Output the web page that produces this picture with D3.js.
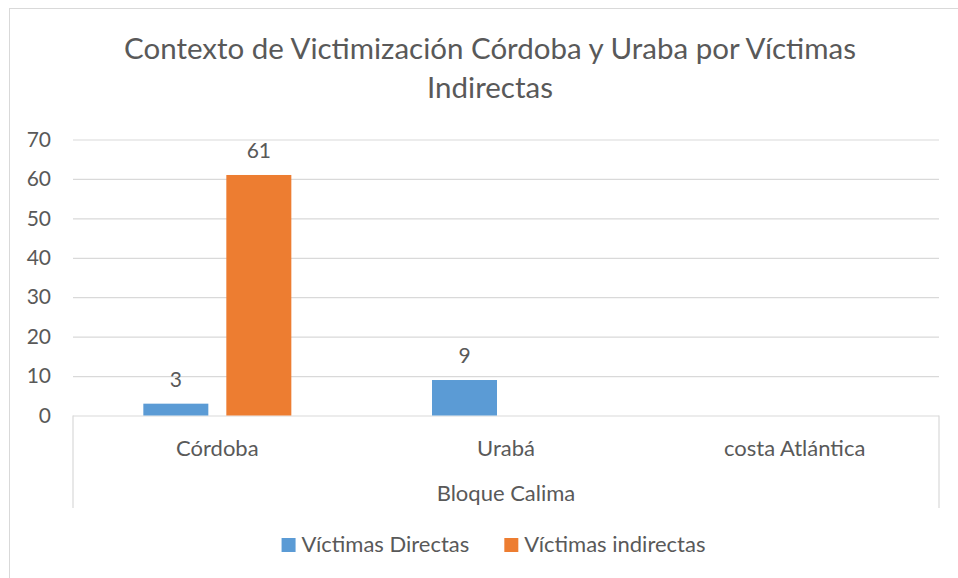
<!DOCTYPE html>
<html>
<head>
<meta charset="utf-8">
<script src="https://cdn.jsdelivr.net/npm/d3@7"></script>
<style>
  body { margin: 0; background: #fff; }
  svg { display: block; }
  text { font-family: Lato, "Open Sans", sans-serif; fill: #595959; }
</style>
</head>
<body>
<svg id="chart" width="958" height="578"></svg>
<script>
// data
const categories = ["Córdoba", "Urabá", "costa Atlántica"];
const seriesNames = ["Víctimas Directas", "Víctimas indirectas"];
const directas = [3, 9, null];
const indirectas = [61, null, null];
const yTicks = [0, 10, 20, 30, 40, 50, 60, 70];
const groupLabel = "Bloque Calima";
const titleLines = ["Contexto de Victimización Córdoba y Uraba por Víctimas", "Indirectas"];
const colors = ["#5b9bd5", "#ed7d31"];

const svg = d3.select("#chart");
const plot = { left: 73, right: 939, top: 139.5, bottom: 415.5 };

// chart frame
svg.append("rect")
  .attr("x", 9.5).attr("y", 8.5)
  .attr("width", 980).attr("height", 600)
  .attr("fill", "none").attr("stroke", "#d9d9d9");

// title
svg.append("g").selectAll("text")
  .data(titleLines)
  .enter().append("text")
  .attr("x", 490)
  .attr("y", (d, i) => 59 + i * 39)
  .attr("text-anchor", "middle")
  .attr("font-size", 29.5)
  .attr("fill", "#636363")
  .text(d => d);

const y = d3.scaleLinear().domain([0, 70]).range([plot.bottom, plot.top]);
const x0 = d3.scaleBand().domain(categories).range([plot.left, plot.right]);
const x1 = d3.scaleBand().domain(seriesNames)
  .range([x0.bandwidth() / 2 - 74, x0.bandwidth() / 2 + 74])
  .paddingInner(18 / 83);

// gridlines + y labels
const yAxis = svg.append("g")
  .attr("transform", `translate(${plot.left},0)`)
  .call(d3.axisLeft(y).tickValues(yTicks).tickSize(-(plot.right - plot.left)).tickPadding(22));
yAxis.select(".domain").remove();
yAxis.selectAll("line").attr("stroke", "#d9d9d9").attr("stroke-width", 1.2);
yAxis.selectAll("text")
  .attr("font-size", 21)
  .style("font-family", "Lato, sans-serif")
  .attr("fill", "#595959");

// box lines of the category axis
svg.append("g").selectAll("line")
  .data([plot.left, plot.right])
  .enter().append("line")
  .attr("x1", d => d).attr("x2", d => d)
  .attr("y1", plot.bottom).attr("y2", 508)
  .attr("stroke", "#d9d9d9").attr("stroke-width", 1.2);

// bars
const rows = categories.map((c, i) => ({ cat: c, vals: [directas[i], indirectas[i]] }));
const groups = svg.append("g").selectAll("g")
  .data(rows)
  .enter().append("g")
  .attr("transform", d => `translate(${x0(d.cat)},0)`);

const cells = groups.selectAll("g")
  .data(d => d.vals.map((v, j) => ({ name: seriesNames[j], v, j })).filter(e => e.v != null))
  .enter().append("g");

cells.append("rect")
  .attr("x", d => x1(d.name))
  .attr("width", x1.bandwidth())
  .attr("y", d => y(d.v))
  .attr("height", d => y(0) - y(d.v))
  .attr("fill", d => colors[d.j]);

// value labels
cells.append("text")
  .attr("x", d => x1(d.name) + x1.bandwidth() / 2)
  .attr("y", d => y(d.v) - 17)
  .attr("text-anchor", "middle")
  .attr("font-size", 21)
  .text(d => d.v);

// category labels
svg.append("g").selectAll("text")
  .data(categories)
  .enter().append("text")
  .attr("x", d => x0(d) + x0.bandwidth() / 2)
  .attr("y", 455.5)
  .attr("text-anchor", "middle")
  .attr("font-size", 22)
  .text(d => d);

svg.append("text")
  .attr("x", (plot.left + plot.right) / 2)
  .attr("y", 501)
  .attr("text-anchor", "middle")
  .attr("font-size", 22)
  .text(groupLabel);

// legend, centred under the chart
const legend = svg.append("g");
const items = legend.selectAll("g")
  .data(seriesNames)
  .enter().append("g");
items.append("rect")
  .attr("width", 14).attr("height", 14)
  .attr("y", 538)
  .attr("fill", (d, i) => colors[i]);
items.append("text")
  .attr("x", 20).attr("y", 552)
  .attr("font-size", 22)
  .text(d => d);
const widths = [];
items.each(function() { widths.push(20 + this.querySelector("text").getComputedTextLength()); });
const gap = 35;
const start = 493.5 - (d3.sum(widths) + gap) / 2;
items.attr("transform", (d, i) => `translate(${start + (i === 0 ? 0 : widths[0] + gap)},0)`);
</script>
</body>
</html>
